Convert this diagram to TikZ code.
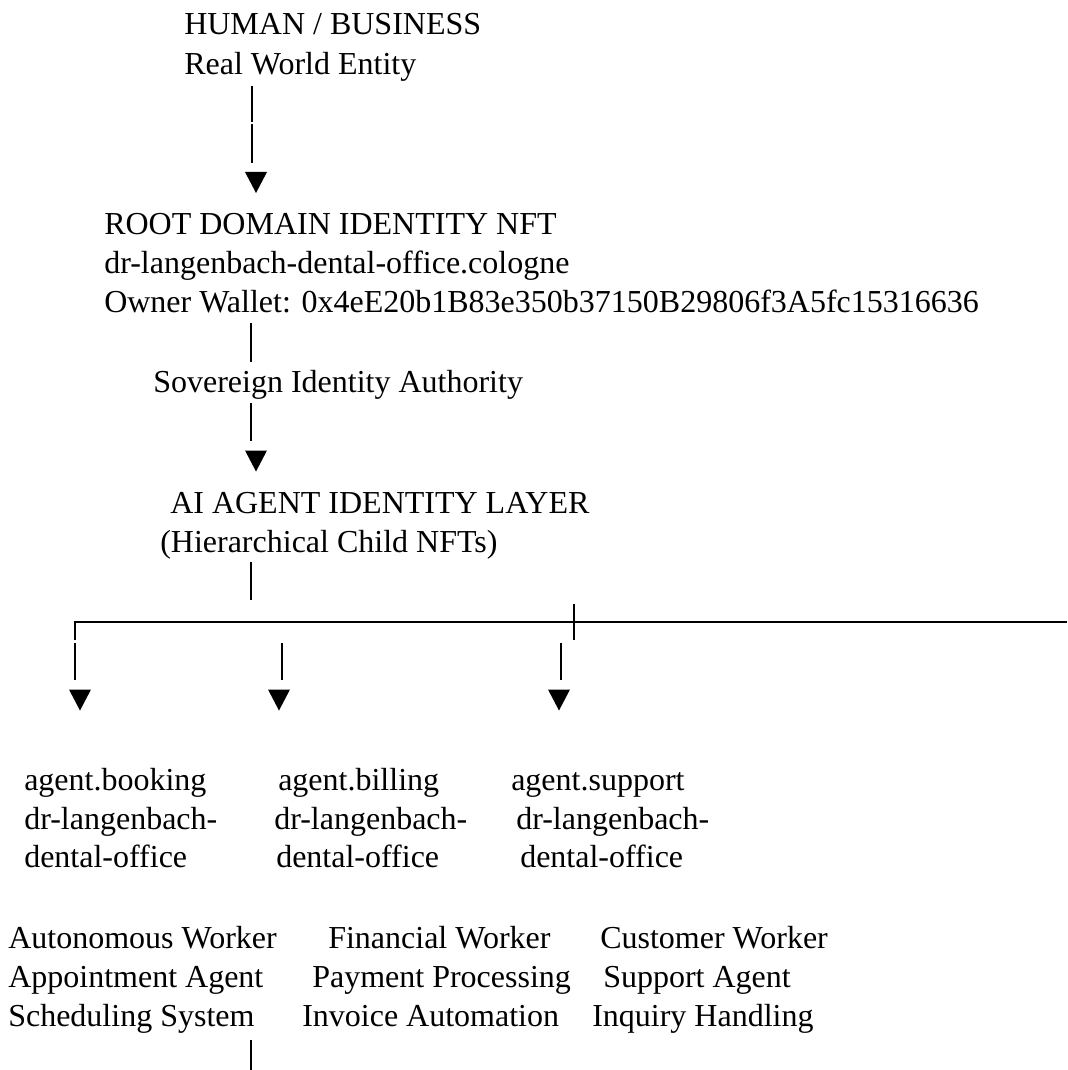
\documentclass[tikz,border=0pt]{standalone}
\usepackage{fontspec}
\setmainfont{Liberation Serif}
\begin{document}
\begin{tikzpicture}[x=0.75pt,y=-0.75pt,
  txt/.style={anchor=base west,inner sep=0pt,font=\fontsize{24}{29}\selectfont},
  bar/.style={line width=1.5pt},
  rule/.style={line width=2pt},
  tri/.pic={\fill (-11,-10.5) -- (11,-10.5) -- (0,10.5) -- cycle;}]
\fill[white] (0,0) rectangle (1067,1070);
\useasboundingbox (0,0) rectangle (1067,1070);

% --- owner entity ---
\node[txt] (human)  at (184,35) {HUMAN / BUSINESS};
\node[txt] (entity) at (184,75) {Real World Entity};
\coordinate (e1) at (252,86);
\coordinate (e2) at (252,122);
\coordinate (e3) at (252,124);
\coordinate (e4) at (252,163);
\draw[bar] (e1) -- (e2);
\draw[bar] (e3) -- (e4);
\pic at (256,182.5) {tri};

% --- root domain identity ---
\node[txt] (root)   at (104,234) {ROOT DOMAIN IDENTITY NFT};
\node[txt] (domain) at (104,273) {dr-langenbach-dental-office.cologne};
\node[txt] (wallet) at (104,312) {Owner Wallet: 0x4eE20b1B83e350b37150B29806f3A5fc15316636};
\coordinate (w1) at (251,323);
\coordinate (w2) at (251,362);
\draw[bar] (w1) -- (w2);
\node[txt] (authority) at (153,392) {Sovereign Identity Authority};
\coordinate (a1) at (251,403);
\coordinate (a2) at (251,441);
\draw[bar] (a1) -- (a2);
\pic at (256,461) {tri};

% --- agent identity layer ---
\node[txt] (layer)    at (170,513) {AI AGENT IDENTITY LAYER};
\node[txt] (children) at (160,552) {(Hierarchical Child NFTs)};
\coordinate (c1) at (251,562);
\coordinate (c2) at (251,600);
\draw[bar] (c1) -- (c2);

% --- branch rail ---
\coordinate (rl) at (75,622);
\coordinate (rr) at (1067,622);
\coordinate (rd) at (75,640);
\draw[rule] (rd) -- (rl) -- (rr);
\coordinate (t1) at (574,604);
\coordinate (t2) at (574,640);
\draw[bar] (t1) -- (t2);

\foreach \x/\ax/\n in {75/80/book, 282/279/bill, 561/559/supp}{
  \coordinate (\n-top) at (\x,643);
  \coordinate (\n-bot) at (\x,680);
  \draw[bar] (\n-top) -- (\n-bot);
  \pic at (\ax,700) {tri};
}

% --- agent names ---
\node[txt] (bookA) at (24,790)  {agent.booking};
\node[txt] (bookB) at (24,829)  {dr-langenbach-};
\node[txt] (bookC) at (24,867)  {dental-office};
\node[txt] (billA) at (278,790) {agent.billing};
\node[txt] (billB) at (274,829) {dr-langenbach-};
\node[txt] (billC) at (276,867) {dental-office};
\node[txt] (suppA) at (511,790) {agent.support};
\node[txt] (suppB) at (516,829) {dr-langenbach-};
\node[txt] (suppC) at (520,867) {dental-office};

% --- agent roles ---
\node[txt] (roleA1) at (8,948)   {Autonomous Worker};
\node[txt] (roleA2) at (8,987)   {Appointment Agent};
\node[txt] (roleA3) at (8,1026)  {Scheduling System};
\node[txt] (roleB1) at (328,948) {Financial Worker};
\node[txt] (roleB2) at (312,987) {Payment Processing};
\node[txt] (roleB3) at (302,1026){Invoice Automation};
\node[txt] (roleC1) at (600,948) {Customer Worker};
\node[txt] (roleC2) at (603,987) {Support Agent};
\node[txt] (roleC3) at (592,1026){Inquiry Handling};

\coordinate (s1) at (251,1040);
\coordinate (s2) at (251,1070);
\draw[bar] (s1) -- (s2);
\end{tikzpicture}
\end{document}
